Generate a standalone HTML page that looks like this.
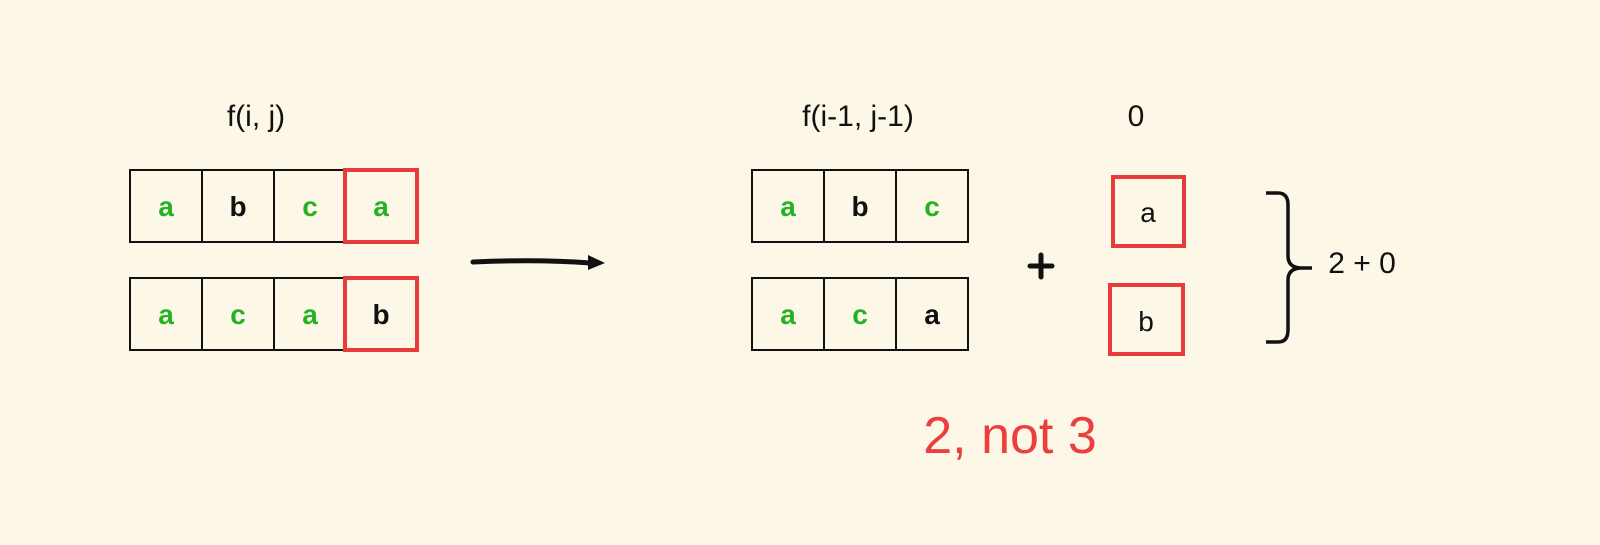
<!DOCTYPE html>
<html><head><style>
body{margin:0;background:#fdf7e7;}
svg{display:block}
text{font-family:"Liberation Sans",sans-serif;}
</style></head><body>
<svg width="1600" height="545" viewBox="0 0 1600 545">
<rect width="1600" height="545" fill="#fdf7e7"/>
<g font-size="30" text-anchor="middle" fill="#111">
<text x="256" y="126">f(i, j)</text>
<text x="858" y="126">f(i-1, j-1)</text>
<text x="1136" y="126">0</text>
</g>
<g fill="none" stroke="#111" stroke-width="2">
<rect x="130" y="170" width="287" height="72"/>
<line x1="202" y1="170" x2="202" y2="242"/><line x1="274" y1="170" x2="274" y2="242"/>
<rect x="130" y="278" width="287" height="72"/>
<line x1="202" y1="278" x2="202" y2="350"/><line x1="274" y1="278" x2="274" y2="350"/>
<rect x="752" y="170" width="216" height="72"/>
<line x1="824" y1="170" x2="824" y2="242"/><line x1="896" y1="170" x2="896" y2="242"/>
<rect x="752" y="278" width="216" height="72"/>
<line x1="824" y1="278" x2="824" y2="350"/><line x1="896" y1="278" x2="896" y2="350"/>
</g>
<g fill="none" stroke="#e83c3c" stroke-width="4">
<rect x="345" y="170" width="72" height="72"/>
<rect x="345" y="278" width="72" height="72"/>
<rect x="1113" y="177" width="71" height="69"/>
<rect x="1110" y="285" width="73" height="69"/>
</g>
<g font-size="28" text-anchor="middle" font-weight="bold">
<text x="166" y="216" fill="#22b322">a</text>
<text x="238" y="216" fill="#111">b</text>
<text x="310" y="216" fill="#22b322">c</text>
<text x="381" y="216" fill="#22b322">a</text>
<text x="166" y="324" fill="#22b322">a</text>
<text x="238" y="324" fill="#22b322">c</text>
<text x="310" y="324" fill="#22b322">a</text>
<text x="381" y="324" fill="#111">b</text>
<text x="788" y="216" fill="#22b322">a</text>
<text x="860" y="216" fill="#111">b</text>
<text x="932" y="216" fill="#22b322">c</text>
<text x="788" y="324" fill="#22b322">a</text>
<text x="860" y="324" fill="#22b322">c</text>
<text x="932" y="324" fill="#111">a</text>
<text x="1148" y="222" fill="#111" font-weight="normal">a</text>
<text x="1146" y="331" fill="#111" font-weight="normal">b</text>
</g>
<path d="M473 262 Q540 259 590 263" stroke="#111" stroke-width="5" fill="none" stroke-linecap="round"/>
<path d="M588 255 L605 263 L588 270 Z" fill="#111"/>
<path d="M1030 266 H1052 M1041 255 V277" stroke="#111" stroke-width="5" stroke-linecap="round"/>
<path d="M1266 193 H1278 Q1288 193 1288 205 V256 Q1288 267 1300 268 H1312 M1300 268 Q1288 269 1288 280 V330 Q1288 342 1278 342 H1266" fill="none" stroke="#111" stroke-width="3.5"/>
<text x="1362" y="273" font-size="30" text-anchor="middle" fill="#111">2 + 0</text>
<text x="1010" y="453" font-size="52" text-anchor="middle" fill="#ec3e3e">2, not 3</text>
</svg>
</body></html>
